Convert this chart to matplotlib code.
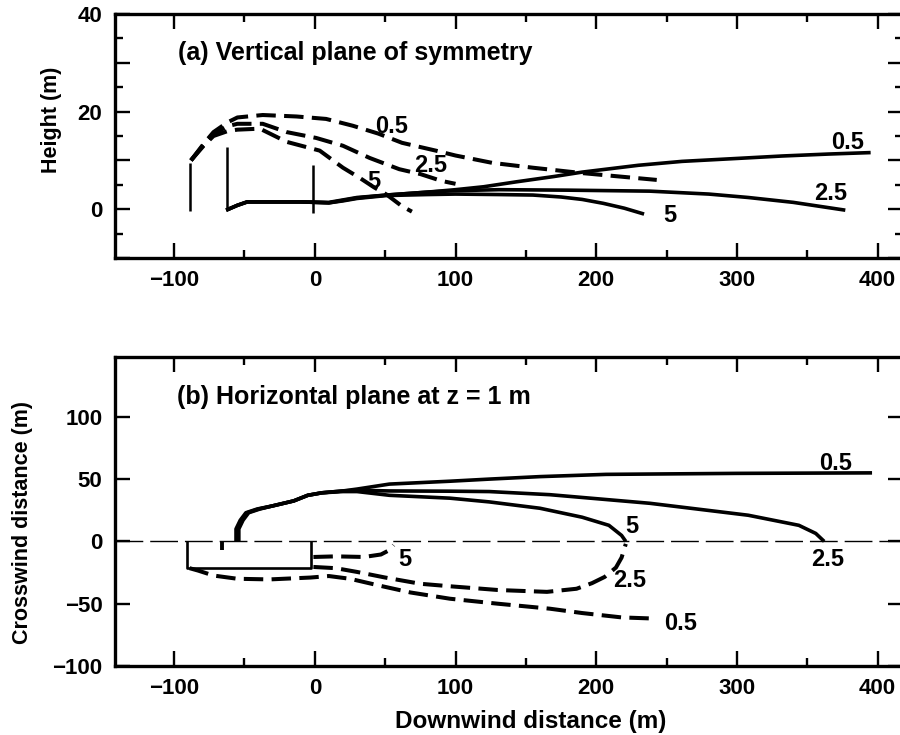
import matplotlib
matplotlib.use("Agg")
import matplotlib.pyplot as plt
from matplotlib.ticker import MultipleLocator, FixedLocator, FixedFormatter

plt.rcParams['font.family'] = ['Liberation Sans', 'DejaVu Sans']
plt.rcParams['font.weight'] = 'bold'
plt.rcParams['lines.scale_dashes'] = False
plt.rcParams['lines.solid_capstyle'] = 'butt'
plt.rcParams['lines.dash_capstyle'] = 'butt'

# ---------------- (a) vertical plane of symmetry ----------------
# obstacle outlines: x position, bottom and top height
posts_x = [-89, -62.5, -1]
posts_bottom = [-0.3, 0.0, -0.8]
posts_top = [9.5, 12.8, 9.0]

# solid isolines (x, height)
a_sol_05_x = [-63, -55, -48, -30, -10, 10, 20, 30, 51, 80, 100, 120, 143, 170, 190, 230, 261, 300, 332, 365, 395]
a_sol_05_y = [-0.2, 0.8, 1.5, 1.5, 1.5, 1.4, 1.9, 2.4, 2.9, 3.5, 4.0, 4.6, 5.6, 6.7, 7.6, 9.0, 9.8, 10.4, 10.9, 11.3, 11.6]
a_sol_25_x = [-63, -55, -48, -30, -10, 10, 20, 30, 51, 80, 100, 131, 180, 238, 280, 308, 340, 377]
a_sol_25_y = [-0.2, 0.8, 1.5, 1.5, 1.5, 1.3, 1.8, 2.3, 2.9, 3.5, 3.8, 4.0, 3.9, 3.7, 3.1, 2.4, 1.4, -0.2]
a_sol_5_x = [-63, -55, -48, -30, -10, 10, 20, 30, 51, 80, 100, 131, 155, 175, 190, 205, 220, 234]
a_sol_5_y = [-0.2, 0.8, 1.5, 1.5, 1.5, 1.3, 1.7, 2.2, 2.8, 3.0, 3.1, 3.0, 2.9, 2.5, 2.0, 1.2, 0.2, -1.0]

# dashed isolines (x, height)
a_dash_05_x = [-88, -79, -72, -62, -55, -37, -13, 8, 27, 45, 62, 86, 100, 126, 155, 190, 243]
a_dash_05_y = [10.0, 13.4, 15.8, 17.8, 18.8, 19.3, 19.0, 18.5, 17.1, 15.5, 13.6, 12.0, 11.0, 9.5, 8.5, 7.4, 6.0]
a_dash_25_x = [-88, -79, -72, -62, -55, -37, -20, 1, 20, 39, 60, 75, 90, 100]
a_dash_25_y = [10.0, 13.2, 15.4, 17.0, 17.5, 17.5, 15.8, 14.6, 13.0, 10.5, 8.2, 7.2, 5.8, 5.2]
a_dash_5_x = [-88, -79, -72, -62, -55, -39, -20, 3.5, 20, 32, 42, 51, 62, 69]
a_dash_5_y = [10.0, 13.0, 15.0, 16.0, 16.3, 16.5, 13.8, 12.0, 8.5, 6.4, 4.5, 3.0, 0.6, -0.5]

# value labels: text, x, y
a_labels = [("0.5", 54.7, 16.9), ("2.5", 82.4, 8.9), ("5", 41.9, 5.6),
            ("0.5", 378.7, 13.6), ("2.5", 366.6, 3.3), ("5", 252, -1.2)]

# ---------------- (b) horizontal plane at z = 1 m ----------------
bldg_x = [-91, -91, -3, -3]
bldg_y = [0, -21, -21, 0]
mark_x = [-66, -66]
mark_y = [0, -7]

# solid isolines (x, crosswind)
b_sol_05_x = [-56, -56, -53, -49, -41, -30, -15, -5, 5, 20, 30, 53, 96, 124, 160, 207, 300, 396]
b_sol_05_y = [0, 10, 17, 23, 26, 28.5, 32.5, 37, 39, 40.5, 42, 46, 48.3, 50, 52, 53.8, 54.6, 55]
b_sol_25_x = [-55, -55, -52, -48, -40, -30, -15, -5, 5, 20, 30, 53, 96, 124, 167, 238, 308, 344, 356, 362]
b_sol_25_y = [0, 10, 17, 23, 26, 28.5, 32.5, 37, 39, 40.5, 41, 40.5, 40.3, 40, 37.5, 30.6, 21, 12.9, 6.4, 0]
b_sol_5_x = [-54, -54, -51, -47, -39, -30, -15, -5, 5, 20, 30, 53, 96, 124, 143, 160, 190, 209, 218, 221]
b_sol_5_y = [0, 10, 17, 23, 26, 28.5, 32.5, 37, 39, 40, 40, 37, 34.7, 31.7, 29, 26.6, 19.4, 12.9, 4.8, 0]

# dashed isolines (x, crosswind)
b_dash_05_x = [-89, -83, -72, -55, -32, -3, 10, 25, 46, 68, 96, 130, 167, 190, 218, 243]
b_dash_05_y = [-21.5, -23.4, -27.4, -30, -30.5, -29, -27.8, -30, -35.5, -41, -46, -50, -54, -57.5, -61, -62]
b_dash_25_x = [-1, 15, 30, 50, 75, 96, 130, 165, 186, 197, 206, 214, 218, 221]
b_dash_25_y = [-20.5, -21.5, -24.5, -29, -34, -36, -39, -40.5, -38, -33.5, -28.5, -21, -13, -2]
b_dash_5_x = [-1, 15, 35, 47, 53, 56]
b_dash_5_y = [-12.5, -12, -12.5, -10.5, -7, -3]

b_labels = [("0.5", 370, 62.9), ("5", 225, 12.1), ("2.5", 364.5, -14.5),
            ("5", 64, -14.5), ("2.5", 224, -31.5), ("0.5", 260, -66)]

xlim = (-142, 418)
SOLID_LW = 2.6
DASH_LW = 2.9
DASH = (0, (14, 6))
LABEL_FS = 17
TITLE_FS = 18

fig = plt.figure(figsize=(9, 7.35), dpi=100)
ax1 = fig.add_axes([115 / 900, 1 - 258 / 735, 788 / 900, 244 / 735])
ax2 = fig.add_axes([115 / 900, 1 - 666 / 735, 788 / 900, 309 / 735])

# ---- panel (a)
for px, pb, pt in zip(posts_x, posts_bottom, posts_top):
    ax1.plot([px, px], [pb, pt], color='black', lw=1.8)
for xs, ys in [(a_sol_05_x, a_sol_05_y), (a_sol_25_x, a_sol_25_y), (a_sol_5_x, a_sol_5_y)]:
    ax1.plot(xs, ys, color='black', lw=SOLID_LW)
for xs, ys in [(a_dash_05_x, a_dash_05_y), (a_dash_25_x, a_dash_25_y), (a_dash_5_x, a_dash_5_y)]:
    ax1.plot(xs, ys, color='black', lw=DASH_LW, linestyle=DASH)
for t, x, y in a_labels:
    ax1.text(x, y, t, fontsize=LABEL_FS, fontweight='bold', ha='center', va='center')
ax1.text(-97.3, 32, "(a) Vertical plane of symmetry", fontsize=TITLE_FS, fontweight='bold',
         ha='left', va='center')

ax1.set_xlim(*xlim)
ax1.set_ylim(-10, 40)
ax1.xaxis.set_major_locator(MultipleLocator(100))
ax1.xaxis.set_minor_locator(MultipleLocator(50))
ax1.yaxis.set_major_locator(FixedLocator([-10, 0, 10, 20, 30, 40]))
ax1.yaxis.set_major_formatter(FixedFormatter(['', '0', '', '20', '', '40']))
ax1.yaxis.set_minor_locator(MultipleLocator(5))
ax1.set_ylabel("Height (m)", fontsize=15.5, fontweight='bold')
ax1.yaxis.set_label_coords(-0.067, 0.566)

# ---- panel (b)
ax2.plot(list(xlim), [0, 0], color='black', lw=1.0, linestyle=(0, (20, 5)))
ax2.plot(bldg_x, bldg_y, color='black', lw=1.9)
ax2.plot(mark_x, mark_y, color='black', lw=2.8)
for xs, ys in [(b_sol_05_x, b_sol_05_y), (b_sol_25_x, b_sol_25_y), (b_sol_5_x, b_sol_5_y)]:
    ax2.plot(xs, ys, color='black', lw=SOLID_LW)
for xs, ys in [(b_dash_05_x, b_dash_05_y), (b_dash_25_x, b_dash_25_y), (b_dash_5_x, b_dash_5_y)]:
    ax2.plot(xs, ys, color='black', lw=DASH_LW, linestyle=DASH)
for t, x, y in b_labels:
    ax2.text(x, y, t, fontsize=LABEL_FS, fontweight='bold', ha='center', va='center')
ax2.text(-98, 116, "(b) Horizontal plane at z = 1 m", fontsize=TITLE_FS, fontweight='bold',
         ha='left', va='center')

ax2.set_xlim(*xlim)
ax2.set_ylim(-100, 148)
ax2.xaxis.set_major_locator(MultipleLocator(100))
ax2.xaxis.set_minor_locator(MultipleLocator(50))
ax2.yaxis.set_major_locator(MultipleLocator(50))
ax2.set_ylabel("Crosswind distance (m)", fontsize=15.5, fontweight='bold')
ax2.yaxis.set_label_coords(-0.104, 0.466)
ax2.set_xlabel("Downwind distance (m)", fontsize=17.5, fontweight='bold')
ax2.xaxis.set_label_coords(0.527, -0.141)

for ax in (ax1, ax2):
    for s in ax.spines.values():
        s.set_linewidth(2.4)
    ax.tick_params(which='both', direction='in', top=True, right=True, width=1.7,
                   labelsize=16)
    ax.tick_params(which='major', length=11, pad=9)
    ax.tick_params(which='minor', length=6)
    for lab in ax.get_xticklabels() + ax.get_yticklabels():
        lab.set_fontweight('bold')

fig.savefig("out.png", dpi=100)
